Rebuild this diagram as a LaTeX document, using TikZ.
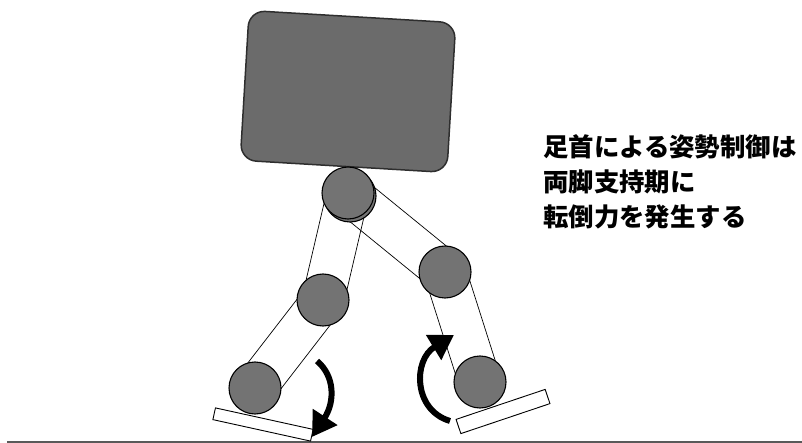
\documentclass[tikz,border=0pt]{standalone}
\usepackage{fontspec}
\newfontfamily\jpfont{Noto Sans CJK JP}
\usetikzlibrary{calc,arrows.meta}
\definecolor{bodygray}{gray}{0.42}
\definecolor{jointgray}{gray}{0.45}
\definecolor{edgegray}{gray}{0.18}
\definecolor{groundgray}{gray}{0.35}
\tikzset{
  joint/.style={circle, draw=black, line width=1.1pt, fill=jointgray,
    minimum size=52pt, inner sep=0pt},
  linkline/.style={draw=black, line width=0.7pt},
  footplate/.style={draw=black, fill=white, line width=0.9pt, inner sep=0pt},
  torque/.style={line width=6pt, -{Triangle[length=24pt,width=28pt]}},
  caption/.style={font=\jpfont\bfseries\fontsize{25.4pt}{30pt}\selectfont,
    anchor=west, inner sep=0pt},
}
\begin{document}
\begin{tikzpicture}[x=1pt,y=-1pt]
\useasboundingbox (0,0) rectangle (802,443);

% ground
\draw[groundgray, line width=2pt] (7,442) -- (802,442);

% joint centres
\coordinate (hipc)   at (348,193);
\coordinate (lkneec) at (323,300);
\coordinate (lanklc) at (255,388);
\coordinate (rkneec) at (445,272);
\coordinate (ranklc) at (480,382);

% leg links (outlined strips between joint centres)
\draw[linkline] ($(hipc)!21pt!90:(lkneec)$) -- ($(lkneec)!21pt!-90:(hipc)$)
  -- ($(lkneec)!21pt!90:(hipc)$) -- ($(hipc)!21pt!-90:(lkneec)$) -- cycle;
\draw[linkline] ($(lkneec)!21pt!90:(lanklc)$) -- ($(lanklc)!21pt!-90:(lkneec)$)
  -- ($(lanklc)!21pt!90:(lkneec)$) -- ($(lkneec)!21pt!-90:(lanklc)$) -- cycle;
\draw[linkline] ($(hipc)!21pt!90:(rkneec)$) -- ($(rkneec)!21pt!-90:(hipc)$)
  -- ($(rkneec)!21pt!90:(hipc)$) -- ($(hipc)!21pt!-90:(rkneec)$) -- cycle;
\draw[linkline] ($(rkneec)!21pt!90:(ranklc)$) -- ($(ranklc)!21pt!-90:(rkneec)$)
  -- ($(ranklc)!21pt!90:(rkneec)$) -- ($(rkneec)!21pt!-90:(ranklc)$) -- cycle;

% feet
\node[footplate, minimum width=100pt, minimum height=12pt, rotate=-12.4]
  (lfoot) at (263,424.5) {};
\node[footplate, minimum width=94pt, minimum height=15pt, rotate=18.6]
  (rfoot) at (503,411.5) {};

% torso
\node[draw=edgegray, line width=1.5pt, fill=bodygray, rounded corners=16pt,
  minimum width=207pt, minimum height=150pt, rotate=-3.4] (torso) at (348,91.5) {};

% joints
\node[joint] (hipback) at (350,196) {};
\node[joint] (hip)   at (hipc)   {};
\node[joint] (lknee) at (lkneec) {};
\node[joint] (lankl) at (lanklc) {};
\node[joint] (rknee) at (rkneec) {};
\node[joint] (rankl) at (ranklc) {};

% ankle torques
\draw[torque] (317,361) .. controls (335,376) and (335,402) .. (312,437);
\draw[torque] (450,421) .. controls (413,410) and (413,360) .. (454,335);

% caption
\node[caption] (note1) at (543,146.5) {足首による姿勢制御は};
\node[caption] (note2) at (543,181.5) {両脚支持期に};
\node[caption] (note3) at (543,217)   {転倒力を発生する};
\end{tikzpicture}
\end{document}
